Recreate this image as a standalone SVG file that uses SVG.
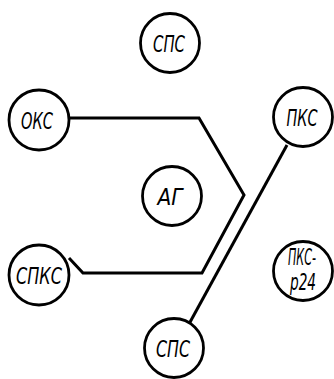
<svg xmlns="http://www.w3.org/2000/svg" width="334" height="379" viewBox="0 0 334 379">
<style>
.n{fill:#fff;stroke:#000;stroke-width:2.8}
.t{font-family:"DejaVu Sans Condensed","Liberation Sans",sans-serif;font-style:italic;font-size:23px;text-anchor:middle;fill:#000}
.c{fill:none;stroke:#000;stroke-width:3;stroke-linejoin:miter}
</style>
<rect width="334" height="379" fill="#fff"/>
<g id="connectors">
<polyline class="c" points="70,118 199,118 244,195 202,273 83,273 69,258"/>
<line class="c" x1="287" y1="145" x2="189" y2="324"/>
</g>
<g id="sps-top"><circle class="n" cx="170" cy="43" r="29.5"/><text class="t" x="169" y="52" textLength="32" lengthAdjust="spacingAndGlyphs">СПС</text></g>
<g id="oks"><circle class="n" cx="39" cy="120" r="30"/><text class="t" x="37" y="129" textLength="32" lengthAdjust="spacingAndGlyphs">ОКС</text></g>
<g id="pks"><circle class="n" cx="303" cy="117" r="29.5"/><text class="t" x="302" y="126" textLength="31" lengthAdjust="spacingAndGlyphs">ПКС</text></g>
<g id="ag"><circle class="n" cx="172" cy="196" r="29.5"/><text class="t" x="170" y="205" textLength="25" lengthAdjust="spacingAndGlyphs">АГ</text></g>
<g id="spks"><circle class="n" cx="39" cy="275" r="30"/><text class="t" x="39" y="284" textLength="46" lengthAdjust="spacingAndGlyphs">СПКС</text></g>
<g id="pks-r24"><circle class="n" cx="303" cy="271" r="29.5"/><text class="t" x="302" y="265" font-size="17" textLength="28" lengthAdjust="spacingAndGlyphs">ПКС-</text><text class="t" x="303" y="290" font-size="18" textLength="26" lengthAdjust="spacingAndGlyphs">р24</text></g>
<g id="sps-bottom"><circle class="n" cx="174" cy="348" r="29.5"/><text class="t" x="173" y="357" textLength="34" lengthAdjust="spacingAndGlyphs">СПС</text></g>
</svg>
